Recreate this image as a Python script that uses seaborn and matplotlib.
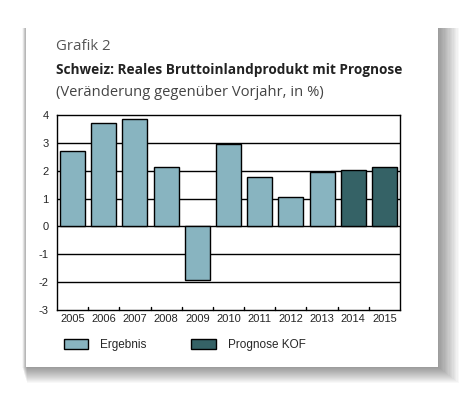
import matplotlib
matplotlib.use("Agg")
import matplotlib.pyplot as plt
from matplotlib.patches import Rectangle, Patch
import seaborn as sns
import pandas as pd

years = ["2005", "2006", "2007", "2008", "2009", "2010", "2011", "2012", "2013", "2014", "2015"]
values = [2.69, 3.73, 3.84, 2.15, -1.94, 2.95, 1.76, 1.04, 1.96, 2.01, 2.12]
kinds = ["Ergebnis"] * 9 + ["Prognose KOF"] * 2
y_ticks = [-3, -2, -1, 0, 1, 2, 3, 4]

colors = {"Ergebnis": "#88b4c0", "Prognose KOF": "#356266"}

sns.set_style("white")
plt.rcParams["font.family"] = ["Liberation Sans", "DejaVu Sans"]

W, H = 465, 393
fig = plt.figure(figsize=(W / 100, H / 100), dpi=100)
fig.patch.set_facecolor("white")

# card shadow
cx0, cy0, cx1, cy1 = 26, 26, 438, 367
for i in range(16, 0, -1):
    fig.patches.append(Rectangle(((cx0 - 4 + i * 0.3) / W, 1 - (cy1 + i) / H), (cx1 - cx0 + i + 4) / W,
                                 (cy1 - cy0 + i - 2) / H,
                                 transform=fig.transFigure, facecolor="black", alpha=0.028, edgecolor="none", zorder=0))
fig.patches.append(Rectangle((cx0 / W, 1 - cy1 / H), (cx1 - cx0) / W, (cy1 - cy0) / H,
                             transform=fig.transFigure, facecolor="white", edgecolor="none", zorder=1))

df = pd.DataFrame({"year": years, "value": values, "kind": kinds})

ax = fig.add_axes([57 / W, 1 - 310 / H, (400 - 57) / W, (310 - 115) / H])
ax.set_zorder(2)
sns.barplot(data=df, x="year", y="value", hue="kind", palette=colors, dodge=False, saturation=1,
            width=0.8, edgecolor="black", linewidth=1.0, ax=ax, legend=False, zorder=3)
ax.set_ylim(-3, 4)
ax.set_xlim(-0.5, len(years) - 0.5)
ax.set_yticks(y_ticks)
ax.set_yticklabels([str(t) for t in y_ticks], fontsize=8)
for t in y_ticks[1:-1]:
    ax.axhline(t, color="black", lw=1.0, zorder=2)
ax.set_xticks(range(len(years)))
ax.set_xticklabels(years, fontsize=8)
ax.tick_params(axis="x", length=0, pad=3)
ax.tick_params(axis="y", length=0, pad=6)
for b in [i + 0.5 for i in range(len(years) - 1)]:
    ax.plot([b, b], [-3, -3 + 0.12], color="black", lw=1.0, zorder=4, clip_on=False)
ax.set_xlabel("")
ax.set_ylabel("")
for s in ax.spines.values():
    s.set_color("black")
    s.set_linewidth(1.0)
    s.set_visible(True)

fig.text(56 / W, 1 - 46 / H, "Grafik 2", fontsize=10.8, family=["Open Sans", "DejaVu Sans"],
         color="#555555", va="center", ha="left", zorder=5)
fig.text(56 / W, 1 - 70 / H, "Schweiz: Reales Bruttoinlandprodukt mit Prognose", fontsize=9.8,
         family=["Open Sans", "DejaVu Sans"], fontweight="bold", color="#222222", va="center", ha="left", zorder=5)
fig.text(56 / W, 1 - 93 / H, "(Veränderung gegenüber Vorjahr, in %)", fontsize=10.6,
         family=["Open Sans", "DejaVu Sans"], color="#444444", va="center", ha="left", zorder=5)

handles = [Patch(facecolor=colors[k], edgecolor="black", linewidth=1.0) for k in ["Ergebnis", "Prognose KOF"]]
leg = fig.legend(handles, ["Ergebnis", "Prognose KOF"], ncol=2, frameon=False, fontsize=8.5,
                 loc="center left", bbox_to_anchor=(53 / W, 1 - 345 / H), handlelength=2.1,
                 handleheight=1.0, handletextpad=1.0, columnspacing=3.8)
leg.set_zorder(5)

fig.savefig("out.png", dpi=100)
